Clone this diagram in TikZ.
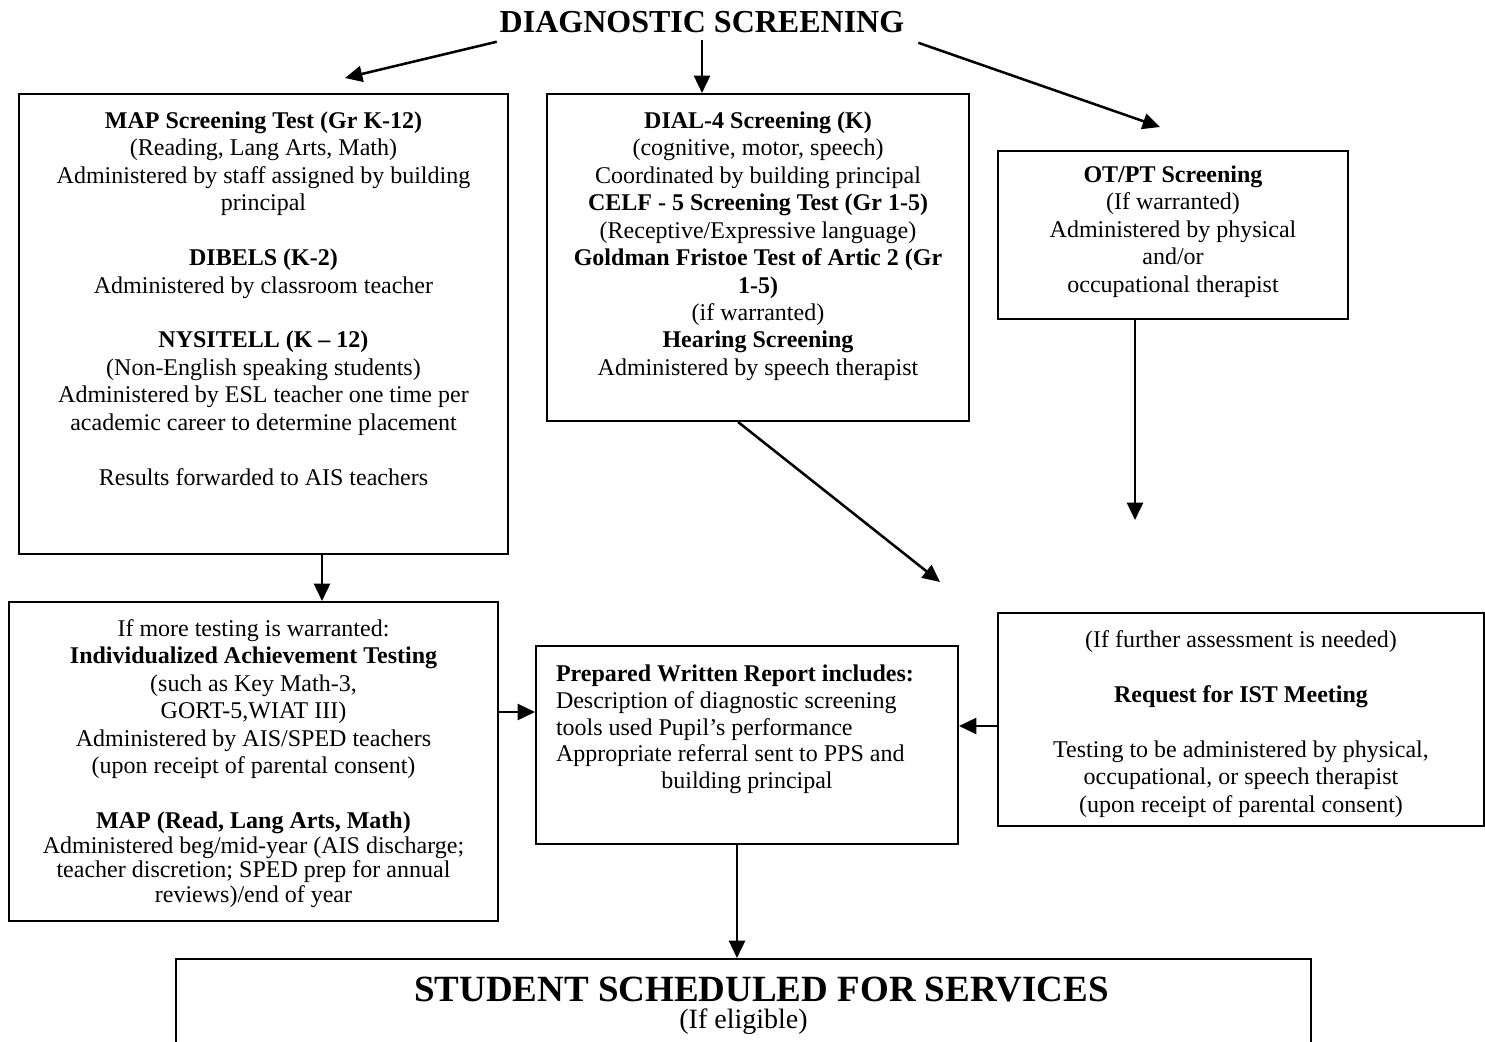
\documentclass[tikz,border=0pt]{standalone}
\usepackage{fontspec}
\setmainfont{Liberation Serif}
\usetikzlibrary{arrows.meta,calc}
\newdimen\pxu \pxu=0.75pt
\newcommand\cbox[4]{\parbox[t][#2\pxu][t]{#1\pxu}{\vspace*{#3\pxu}\centering\strut #4\par}}
\begin{document}
\begin{tikzpicture}[x=0.75pt,y=-0.75pt,line width=1.5pt,
  arr/.style={line width=1.9pt,-{Triangle[length=13pt,width=12pt]}},
  bx/.style={draw,rectangle,inner sep=0pt,anchor=north west,font=\fontsize{18}{20.6}\selectfont}]
\clip (0,0) rectangle (1485,1042);
\fill[white] (0,0) rectangle (1485,1042);

\node[inner sep=0pt,font=\fontsize{24}{28}\selectfont\bfseries] (title) at (702,22) {DIAGNOSTIC SCREENING};

\node[bx] (map) at (18,93) {\cbox{489}{460}{15}{\textbf{MAP Screening Test (Gr K-12)}\\
(Reading, Lang Arts, Math)\\
Administered by staff assigned by building\\
principal\\[20.6pt]
\textbf{DIBELS (K-2)}\\
Administered by classroom teacher\\[20.6pt]
\textbf{NYSITELL (K – 12)}\\
(Non-English speaking students)\\
Administered by ESL teacher one time per\\
academic career to determine placement\\[20.6pt]
Results forwarded to AIS teachers}};

\node[bx] (dial) at (546,93) {\cbox{422}{327}{15}{\textbf{DIAL-4 Screening (K)}\\
(cognitive, motor, speech)\\
Coordinated by building principal\\
\textbf{CELF - 5 Screening Test (Gr 1-5)}\\
(Receptive/Expressive language)\\
\textbf{Goldman Fristoe Test of Artic 2 (Gr}\\
\textbf{1-5)}\\
(if warranted)\\
\textbf{Hearing Screening}\\
Administered by speech therapist}};

\node[bx] (otpt) at (997,150) {\cbox{350}{168}{12}{\textbf{OT/PT Screening}\\
(If warranted)\\
Administered by physical\\
and/or\\
occupational therapist}};

\node[bx] (ind) at (8,601) {\parbox[t][319\pxu][t]{489\pxu}{\vspace*{15\pxu}\centering\strut If more testing is warranted:\\
\textbf{Individualized Achievement Testing}\\
(such as Key Math-3,\\
GORT-5,WIAT III)\\
Administered by AIS/SPED teachers\\
(upon receipt of parental consent)\par
\vspace{22.8pt}{\fontsize{18}{18.4}\selectfont\textbf{MAP (Read, Lang Arts, Math)}\\
Administered beg/mid-year (AIS discharge;\\
teacher discretion; SPED prep for annual\\
reviews)/end of year\par}}};

\node[bx] (rep) at (535,645) {\parbox[t][198\pxu][t]{422\pxu}{\vspace*{17\pxu}\fontsize{18}{20}\selectfont\raggedright\leftskip=20\pxu
\strut\textbf{Prepared Written Report includes:}\\
Description of diagnostic screening\\
tools used Pupil’s performance\\
Appropriate referral sent to PPS and\par
\centering building principal\par}};

\node[bx] (ist) at (997,612) {\cbox{486}{213}{15}{(If further assessment is needed)\\[20.6pt]
\textbf{Request for IST Meeting}\\[20.6pt]
Testing to be administered by physical,\\
occupational, or speech therapist\\
(upon receipt of parental consent)}};

\node[bx] (stud) at (175,958) {\parbox[t][120\pxu][t]{1135\pxu}{\vspace*{17.5\pxu}\centering
{\fontsize{27.75}{30}\selectfont\bfseries\hspace*{36\pxu}STUDENT SCHEDULED FOR SERVICES\par}
\fontsize{21}{20.25}\selectfont (If eligible)\par}};

% connector helper coordinates
\coordinate (mapin) at (345,78);
\coordinate (otptin) at (1160,127);
\coordinate (dialout) at (940,582);
\coordinate (otptout) at (1135,520);
\coordinate (cx1) at (322,0);
\coordinate (cx3) at (1135,0);
\coordinate (cx6) at (737,0);
\coordinate (cy4) at (0,712);
\coordinate (cy5) at (0,726);

\draw[arr] ($(title.south west)+(-2,8)$) -- (mapin);
\draw[arr] ($(title.south)+(0,6)$) -- (title.south |- dial.north);
\draw[arr] ($(title.south east)+(13,9)$) -- (otptin);
\draw[arr] (map.south -| cx1) -- (ind.north -| cx1);
\draw[arr] ($(dial.south west)!0.453!(dial.south east)$) -- (dialout);
\draw[arr] (otpt.south -| cx3) -- (otptout);
\draw[arr] (ind.east |- cy4) -- (rep.west |- cy4);
\draw[arr] (ist.west |- cy5) -- (rep.east |- cy5);
\draw[arr] (rep.south -| cx6) -- (stud.north -| cx6);
\end{tikzpicture}
\end{document}
